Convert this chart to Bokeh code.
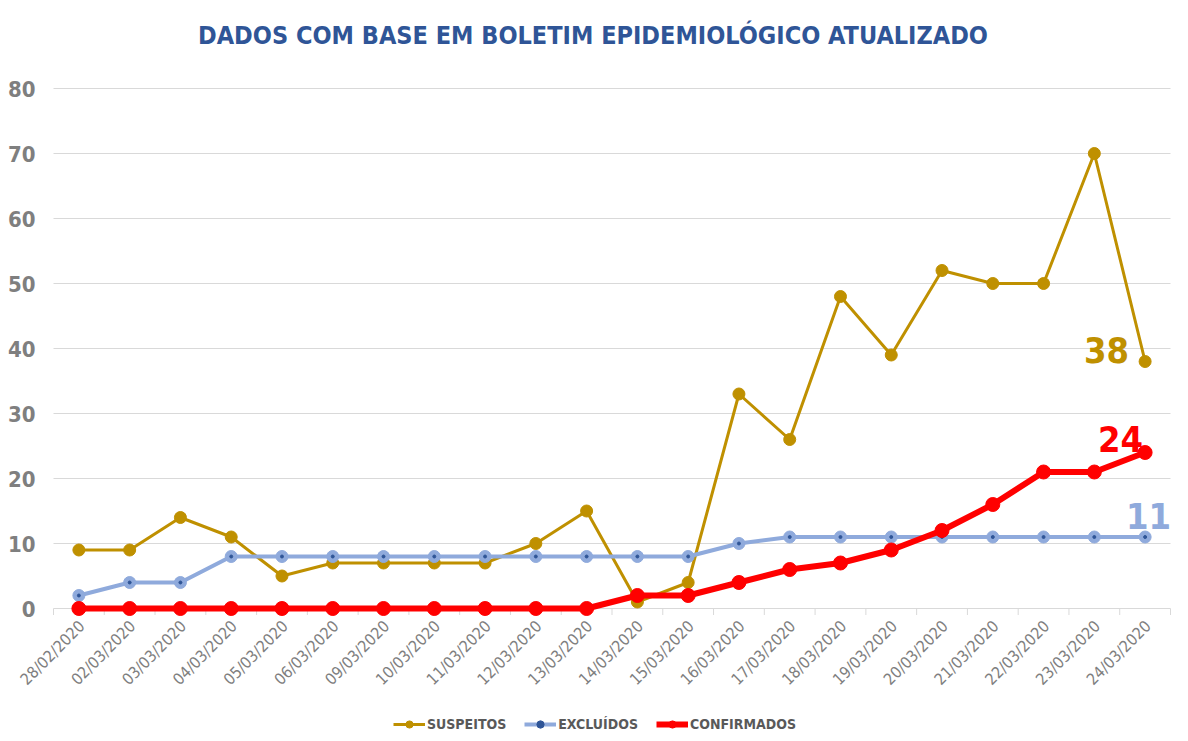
import math
from bokeh.plotting import figure, ColumnDataSource
from bokeh.models import Legend, LegendItem, Range1d
from bokeh.core.properties import value
from bokeh.embed import file_html
from bokeh.resources import INLINE

dates = ["28/02/2020", "02/03/2020", "03/03/2020", "04/03/2020", "05/03/2020",
         "06/03/2020", "09/03/2020", "10/03/2020", "11/03/2020", "12/03/2020",
         "13/03/2020", "14/03/2020", "15/03/2020", "16/03/2020", "17/03/2020",
         "18/03/2020", "19/03/2020", "20/03/2020", "21/03/2020", "22/03/2020",
         "23/03/2020", "24/03/2020"]
suspeitos = [9, 9, 14, 11, 5, 7, 7, 7, 7, 10, 15, 1, 4, 33, 26, 48, 39, 52, 50, 50, 70, 38]
excluidos = [2, 4, 4, 8, 8, 8, 8, 8, 8, 8, 8, 8, 8, 10, 11, 11, 11, 11, 11, 11, 11, 11]
confirmados = [0, 0, 0, 0, 0, 0, 0, 0, 0, 0, 0, 2, 2, 4, 6, 7, 9, 12, 16, 21, 21, 24]
y_ticks = [0, 10, 20, 30, 40, 50, 60, 70, 80]
series_names = ["SUSPEITOS", "EXCLUÍDOS", "CONFIRMADOS"]
title_text = "DADOS COM BASE EM BOLETIM EPIDEMIOLÓGICO ATUALIZADO"

FONT = "DejaVu Sans Condensed"
GOLD = "#BF9000"
BLUE = "#8FAADC"
RED = "#FF0000"
GRID = "#D9D9D9"

# layout: the frame covers the whole canvas; plot area 53..1170 px wide, 80 at 88px, 0 at 608px
W, H = 1188, 741
n = len(dates)
cat_w = (1170 - 53) / n
X_START = -0.5 - 53 / cat_w
X_END = (n - 0.5) + (W - 1170) / cat_w
PX_PER_UNIT = 6.5
Y_TOP = max(y_ticks) + 88 / PX_PER_UNIT
Y_BOTTOM = 0 - (H - 608) / PX_PER_UNIT

idx = list(range(n))
src = ColumnDataSource(dict(i=idx, d=dates, s=suspeitos, e=excluidos, c=confirmados))
bounds = [k - 0.5 for k in range(n + 1)]

p = figure(frame_width=W, frame_height=H, x_range=Range1d(X_START, X_END),
           y_range=Range1d(Y_BOTTOM, Y_TOP),
           output_backend="svg", toolbar_location=None,
           min_border_left=0, min_border_right=0, min_border_top=0, min_border_bottom=0)
p.outline_line_color = None
p.background_fill_color = "white"
p.border_fill_color = "white"
p.xaxis.visible = False
p.yaxis.visible = False
p.xgrid.grid_line_color = None
p.ygrid.grid_line_color = None

# horizontal gridlines across the plot area
p.segment(x0=bounds[0], y0=y_ticks, x1=bounds[-1], y1=y_ticks, line_color=GRID, line_width=1)
# y tick labels
p.text(x=bounds[0], y=y_ticks, text=[str(t) for t in y_ticks], x_offset=-18,
       text_align="right", text_baseline="middle", text_font=value(FONT),
       text_font_style="bold", text_font_size="22px", text_color="#7F7F7F")

# title
p.text(x=[(n - 1) / 2], y=[max(y_ticks)], text=[title_text], x_offset=-19, y_offset=-53,
       text_align="center", text_baseline="middle", text_font=value(FONT),
       text_font_style="bold", text_font_size="25px", text_color="#2F5597")

# category tick labels, rotated 45 degrees
p.text(x="i", y=0, text="d", source=src, angle=math.pi / 4, x_offset=3, y_offset=15,
       text_align="right", text_baseline="middle", text_font=value(FONT),
       text_font_size="16px", text_color="#7F7F7F")

# category boundary ticks below the baseline
p.segment(x0=bounds, y0=0, x1=bounds, y1=-1, line_color=GRID, line_width=1)

l1 = p.line("i", "s", source=src, line_color=GOLD, line_width=3)
c1 = p.scatter("i", "s", source=src, size=12, fill_color=GOLD, line_color=GOLD)

l2 = p.line("i", "e", source=src, line_color=BLUE, line_width=4)
c2 = p.scatter("i", "e", source=src, size=12, fill_color=BLUE, line_color=BLUE)
c2b = p.scatter("i", "e", source=src, size=3, fill_color="#2F5597", line_color="#2F5597")

l3 = p.line("i", "c", source=src, line_color=RED, line_width=6)
c3 = p.scatter("i", "c", source=src, size=14, fill_color=RED, line_color=RED)

# data labels on last points
p.text(x=[idx[-1]], y=[suspeitos[-1]], text=[str(suspeitos[-1])], x_offset=-16, y_offset=-12,
       text_align="right", text_baseline="middle", text_font=value(FONT), text_font_style="bold",
       text_font_size="36px", text_color=GOLD)
p.text(x=[idx[-1]], y=[confirmados[-1]], text=[str(confirmados[-1])], x_offset=-2, y_offset=-1,
       text_align="right", text_baseline="bottom", text_font=value(FONT), text_font_style="bold",
       text_font_size="36px", text_color=RED)
p.text(x=[idx[-1]], y=[excluidos[-1]], text=[str(excluidos[-1])], x_offset=26, y_offset=-8,
       text_align="right", text_baseline="bottom", text_font=value(FONT), text_font_style="bold",
       text_font_size="36px", text_color=BLUE)

legend = Legend(items=[
    LegendItem(label=series_names[0], renderers=[l1, c1]),
    LegendItem(label=series_names[1], renderers=[l2, c2, c2b]),
    LegendItem(label=series_names[2], renderers=[l3, c3]),
], orientation="horizontal", location=(393, 8),
    label_text_font=FONT, label_text_font_style="bold", label_text_font_size="14px",
    label_text_color="#595959", glyph_width=32, glyph_height=18, spacing=18, label_standoff=2,
    border_line_color=None, background_fill_alpha=0, margin=0, padding=0)
p.add_layout(legend, "center")

open("out.html", "w").write(file_html(p, INLINE))
